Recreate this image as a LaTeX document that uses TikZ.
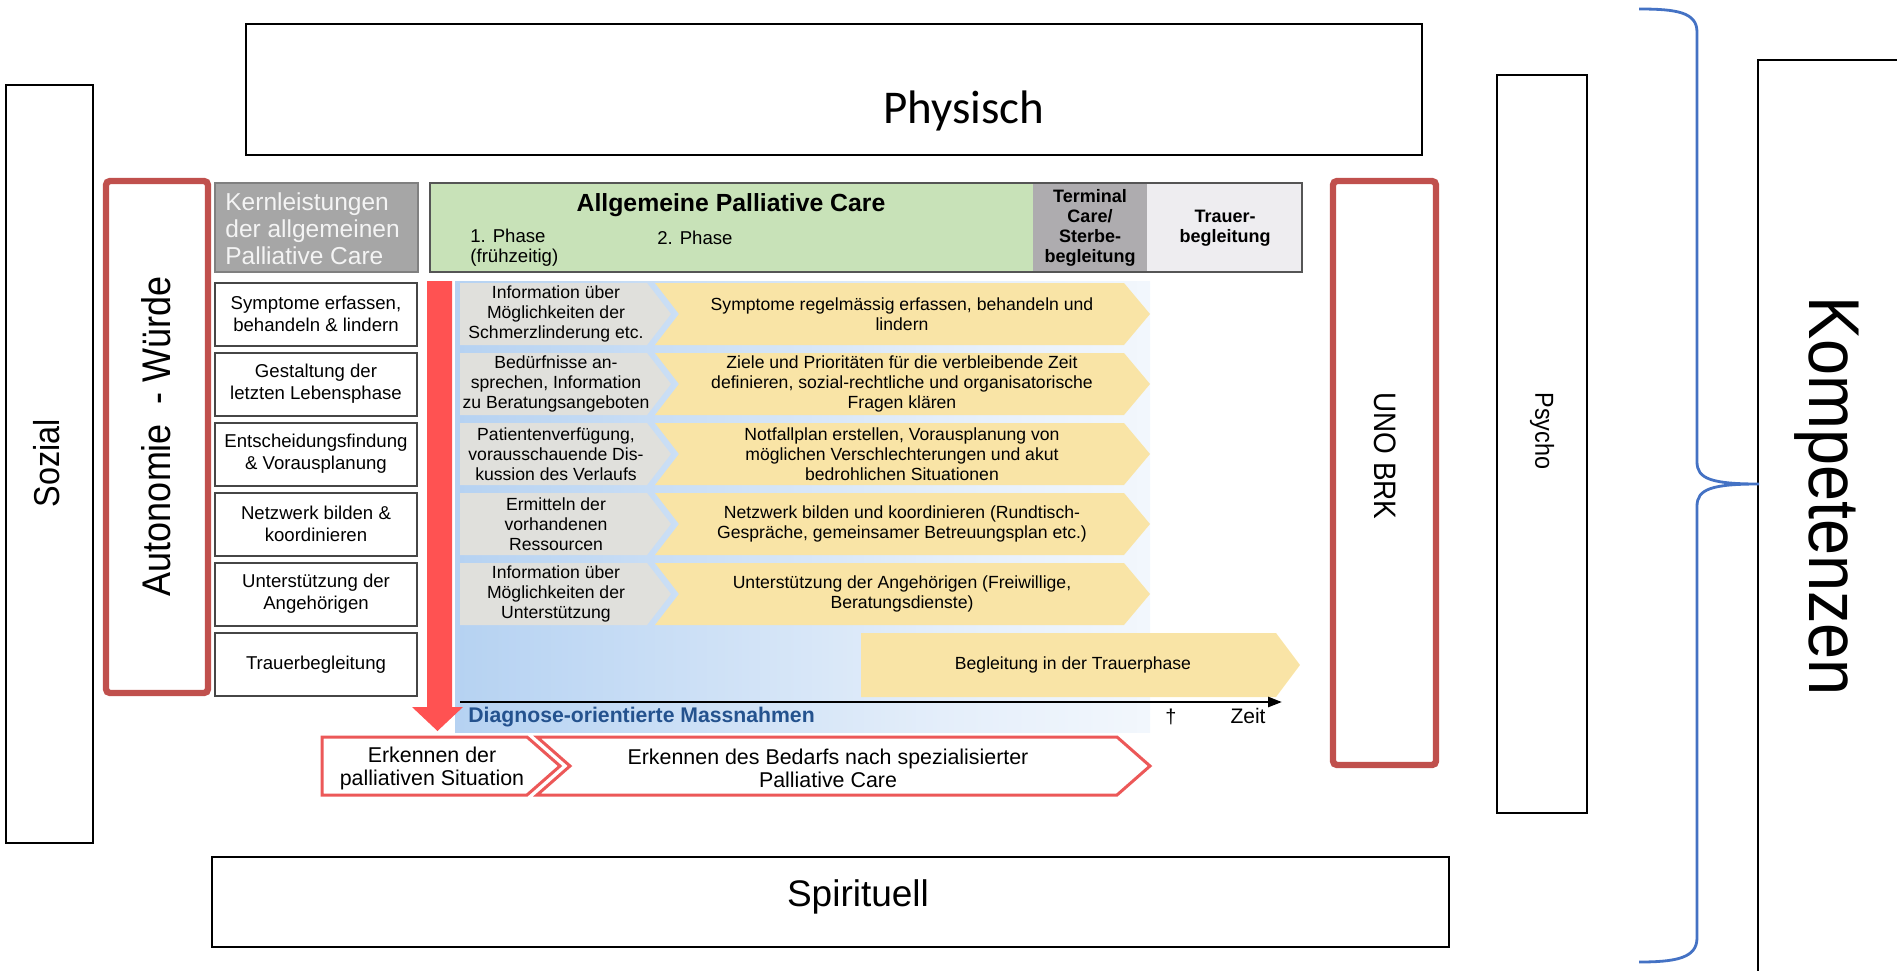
\documentclass[tikz,border=0pt]{standalone}
\usepackage{fontspec}
\setmainfont{Liberation Sans}
\newfontfamily\calfont{Carlito}
\newfontfamily\narrowfont[FakeStretch=0.9]{Liberation Sans}
\usetikzlibrary{arrows.meta}

\definecolor{autored}{RGB}{192,80,77}
\definecolor{signalred}{RGB}{255,82,82}
\definecolor{outred}{RGB}{236,88,88}
\definecolor{bracecol}{RGB}{68,114,196}
\definecolor{kerngray}{RGB}{166,166,166}
\definecolor{kerntext}{RGB}{244,244,244}
\definecolor{headgreen}{RGB}{200,226,184}
\definecolor{termgray}{RGB}{174,172,175}
\definecolor{trauerbg}{RGB}{238,237,240}
\definecolor{headframe}{RGB}{85,85,85}
\definecolor{rowframe}{RGB}{70,70,70}
\definecolor{infogray}{RGB}{224,224,220}
\definecolor{yellowbg}{RGB}{249,228,166}
\definecolor{bluebg}{RGB}{150,190,234}
\definecolor{bluemid}{RGB}{188,214,243}
\definecolor{bluelight}{RGB}{228,238,250}
\definecolor{diagblue}{RGB}{36,82,142}

% backdrop of the time lane: blue on the left, fading out to the right
\pgfdeclarehorizontalshading{bluefade}{100bp}{color(0bp)=(bluebg); color(30bp)=(bluemid); color(60bp)=(bluelight); color(88bp)=(white); color(100bp)=(white)}

\tikzset{
  outerbox/.style={draw=black, line width=0.9pt, fill=white},
  redframe/.style={draw=autored, line width=3.2pt, rounded corners=2pt},
  rowbox/.style={draw=rowframe, line width=0.9pt, fill=white},
  rowtxt/.style={font=\fontsize{9.3}{11}\selectfont, align=center, inner sep=0pt},
  infotxt/.style={font=\fontsize{8.8}{10}\selectfont, align=center, inner sep=0pt},
  yeltxt/.style={font=\fontsize{8.8}{10}\selectfont, align=center, inner sep=0pt},
  infochev/.style={fill=infogray},
  yelchev/.style={fill=yellowbg},
  outchev/.style={draw=outred, line width=1.5pt, fill=white, line join=miter},
  outtxt/.style={font=\fontsize{10.7}{11.5}\selectfont, align=center, inner sep=0pt},
  sidetxt/.style={font=\narrowfont\fontsize{#1}{#1}\selectfont, inner sep=0pt},
}

\begin{document}
\begin{tikzpicture}[x=0.5pt, y=-0.5pt]
\useasboundingbox (0,0) rectangle (1897,970);

% ---------- outer frame boxes ----------
\draw[outerbox] (246,24) rectangle (1422,155);
\node[font=\calfont\fontsize{23.5}{26}\selectfont, inner sep=0pt] (physisch) at (964,111) {Physisch};

\draw[outerbox] (212,857) rectangle (1449,947);
\node[font=\fontsize{18.5}{20}\selectfont, inner sep=0pt] (spirituell) at (858,897) {Spirituell};

\draw[outerbox] (6,85) rectangle (93,843);
\node[sidetxt=18, rotate=90] (sozial) at (47,463) {Sozial};

\draw[outerbox] (1497,75) rectangle (1587,813);
\node[sidetxt=13, rotate=-90] (psycho) at (1542,431) {Psycho};

\draw[redframe, fill=white] (106,181) rectangle (208,693);
\node[sidetxt=20, rotate=90] (autonomie) at (156,436) {Autonomie \ - Würde};

\draw[redframe, fill=white] (1333,181) rectangle (1436,765);
\node[sidetxt=15.5, rotate=-90] (unobrk) at (1385,456) {UNO BRK};

% Kompetenzen box runs past the right and bottom border
\draw[black, line width=0.9pt] (1905,60) -- (1758,60) -- (1758,980);
\node[sidetxt=36, rotate=-90] (kompetenzen) at (1827,496) {Kompetenzen};

% curly brace gathering the dimensions
\coordinate (bracetop) at (1639,9);
\coordinate (bracetip) at (1759,484);
\coordinate (bracebot) at (1639,962);
\draw[bracecol, line width=1.4pt]
  (bracetop) .. controls (1676,9) and (1697,12) .. (1697,32)
  -- (1697,462) .. controls (1697,479) and (1712,484) .. (bracetip)
  .. controls (1712,484) and (1697,489) .. (1697,506)
  -- (1697,938) .. controls (1697,958) and (1676,962) .. (bracebot);

% ---------- header row ----------
\filldraw[fill=kerngray, draw=gray, line width=0.9pt] (215,183) rectangle (418,272);
\node[anchor=west, align=left, text=kerntext, inner sep=0pt,
      font=\fontsize{12.25}{13.5}\selectfont] (kern) at (225,229)
  {Kernleistungen\\der allgemeinen\\Palliative Care};

\fill[headgreen] (430,183) rectangle (1033,272);
\fill[termgray] (1033,183) rectangle (1147,272);
\fill[trauerbg] (1147,183) rectangle (1302,272);
\draw[headframe, line width=1pt] (430,183) rectangle (1302,272);

\node[font=\bfseries\fontsize{12.4}{14}\selectfont, inner sep=0pt] (apc) at (731,205) {Allgemeine Palliative Care};
\node[anchor=west, align=left, inner sep=0pt, font=\fontsize{9.3}{10}\selectfont] (phase1) at (470,248) {1. Phase\\(frühzeitig)};
\node[anchor=west, inner sep=0pt, font=\fontsize{9.3}{10}\selectfont] (phase2) at (657,238) {2. Phase};
\node[align=center, inner sep=0pt, font=\bfseries\fontsize{9}{10}\selectfont] (terminal) at (1090,228) {Terminal\\Care/\\Sterbe-\\begleitung};
\node[align=center, inner sep=0pt, font=\bfseries\fontsize{9}{10}\selectfont] (trauerhead) at (1225,228) {Trauer-\\begleitung};

% ---------- time lane ----------
\shade[shading=bluefade] (455,281) rectangle (1150,732);

\foreach \t in {283,353,423,493,563}{
  \fill[infochev] (460,\t) -- (647,\t) -- (671,\t+31) -- (647,\t+62) -- (460,\t+62) -- cycle;
  \fill[yelchev] (655,\t) -- (1124,\t) -- (1150,\t+31) -- (1124,\t+62) -- (655,\t+62) -- (679,\t+31) -- cycle;
}
\fill[yelchev] (861,633) -- (1276,633) -- (1300,665) -- (1276,697) -- (861,697) -- cycle;

% core services, one box per row
\foreach \t in {283,353,423,493,563,633}{
  \draw[rowbox] (215,\t) rectangle (417,\t+63);
}
\node[rowtxt] (r1) at (316,314) {Symptome erfassen,\\behandeln \& lindern};
\node[rowtxt] (r2) at (316,384) {Gestaltung der\\letzten Lebensphase};
\node[rowtxt] (r3) at (316,454) {Entscheidungsfindung\\\& Vorausplanung};
\node[rowtxt] (r4) at (316,524) {Netzwerk bilden \&\\koordinieren};
\node[rowtxt] (r5) at (316,594) {Unterstützung der\\Angehörigen};
\node[rowtxt] (r6) at (316,665) {Trauerbegleitung};

\node[infotxt] (i1) at (556,314) {Information über\\Möglichkeiten der\\Schmerzlinderung etc.};
\node[infotxt] (i2) at (556,384) {Bedürfnisse an-\\sprechen, Information\\zu Beratungsangeboten};
\node[infotxt] (i3) at (556,454) {Patientenverfügung,\\vorausschauende Dis-\\kussion des Verlaufs};
\node[infotxt] (i4) at (556,524) {Ermitteln der\\vorhandenen\\Ressourcen};
\node[infotxt] (i5) at (556,594) {Information über\\Möglichkeiten der\\Unterstützung};

\node[yeltxt] (y1) at (902,314) {Symptome regelmässig erfassen, behandeln und\\lindern};
\node[yeltxt] (y2) at (902,384) {Ziele und Prioritäten für die verbleibende Zeit\\definieren, sozial-rechtliche und organisatorische\\Fragen klären};
\node[yeltxt] (y3) at (902,454) {Notfallplan erstellen, Vorausplanung von\\möglichen Verschlechterungen und akut\\bedrohlichen Situationen};
\node[yeltxt] (y4) at (902,524) {Netzwerk bilden und koordinieren (Rundtisch-\\Gespräche, gemeinsamer Betreuungsplan etc.)};
\node[yeltxt] (y5) at (902,594) {Unterstützung der Angehörigen (Freiwillige,\\Beratungsdienste)};
\node[yeltxt] (y6) at (1073,665) {Begleitung in der Trauerphase};

% time axis
\coordinate (ax0) at (460,702);
\coordinate (ax1) at (1282,702);
\draw[line width=1.3pt, -{Triangle[length=7pt,width=5pt]}] (ax0) -- (ax1);
\node[anchor=west, inner sep=0pt, text=diagblue, font=\bfseries\fontsize{10.6}{12}\selectfont] (diag) at (468,717) {Diagnose-orientierte Massnahmen};
\node[inner sep=0pt, font=\fontsize{10}{11}\selectfont] (dagger) at (1171,717) {†};
\node[inner sep=0pt, font=\fontsize{10.5}{12}\selectfont] (zeit) at (1248,716) {Zeit};

% red arrow down the lane
\fill[signalred] (427,281) -- (452,281) -- (452,707) -- (463,707) -- (437.5,731) -- (412,707) -- (427,707) -- cycle;

% recognition steps
\draw[outchev] (322,737) -- (527,737) -- (560,766) -- (527,795) -- (322,795) -- cycle;
\draw[outchev] (537,737) -- (1117,737) -- (1150,766) -- (1117,795) -- (537,795) -- (570,766) -- cycle;
\node[outtxt] (erk1) at (432,768) {Erkennen der\\palliativen Situation};
\node[outtxt] (erk2) at (828,768) {Erkennen des Bedarfs nach spezialisierter\\Palliative Care};

\end{tikzpicture}
\end{document}
